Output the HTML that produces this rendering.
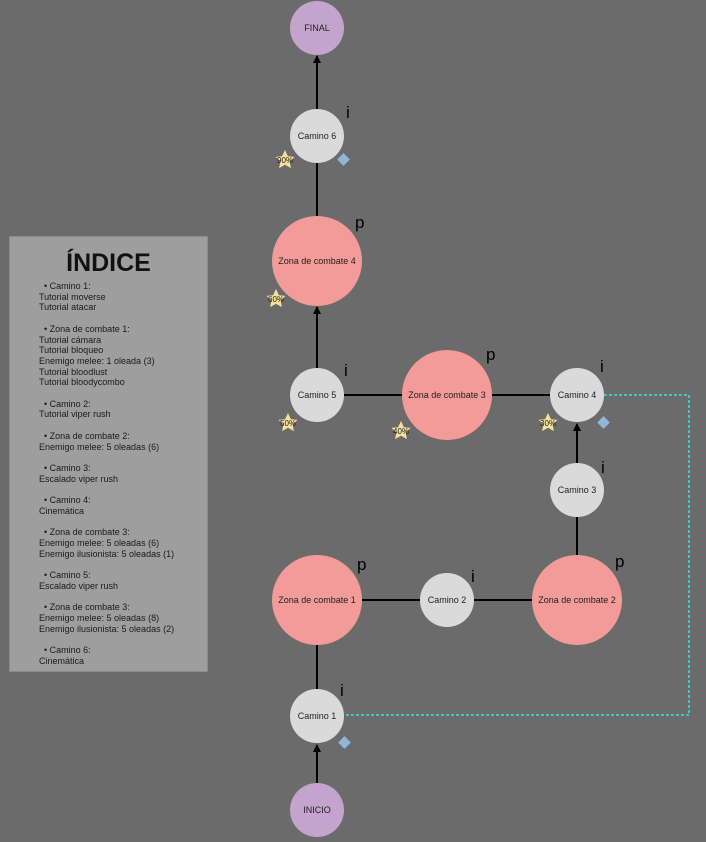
<!DOCTYPE html>
<html><head><style>
body{margin:0;background:#6b6b6b;width:706px;height:842px;overflow:hidden;font-family:"Liberation Sans",sans-serif}
#idx{position:absolute;left:9px;top:236px;width:197px;height:434px;background:#9e9e9e;border:1px solid #8a8a8a;color:#1a1a1a;font-size:9px;line-height:10.7px}
#idx h1{margin:0;position:absolute;top:11px;width:100%;text-align:center;font-size:25px;line-height:30px;font-weight:bold;color:#111}
#idx .t{position:absolute;left:29px;top:44px;white-space:pre}
</style></head><body>
<div id="idx"><h1>ÍNDICE</h1><div class="t">  • Camino 1:
Tutorial moverse
Tutorial atacar

  • Zona de combate 1:
Tutorial cámara
Tutorial bloqueo
Enemigo melee: 1 oleada (3)
Tutorial bloodlust
Tutorial bloodycombo

  • Camino 2:
Tutorial viper rush

  • Zona de combate 2:
Enemigo melee: 5 oleadas (6)

  • Camino 3:
Escalado viper rush

  • Camino 4:
Cinemática

  • Zona de combate 3:
Enemigo melee: 5 oleadas (6)
Enemigo ilusionista: 5 oleadas (1)

  • Camino 5:
Escalado viper rush

  • Zona de combate 3:
Enemigo melee: 5 oleadas (8)
Enemigo ilusionista: 5 oleadas (2)

  • Camino 6:
Cinemática</div></div>
<svg width="706" height="842" style="position:absolute;left:0;top:0" font-family="Liberation Sans,sans-serif">
<defs><marker id="a" markerWidth="8" markerHeight="8" refX="7" refY="4" orient="auto" markerUnits="userSpaceOnUse"><path d="M0,0L8,4L0,8z" fill="#000"/></marker></defs>
<g stroke="#000" stroke-width="2" fill="none">
<line x1="317" y1="783" x2="317" y2="745" marker-end="url(#a)"/>
<line x1="317" y1="689" x2="317" y2="645"/>
<line x1="362" y1="600" x2="420" y2="600"/>
<line x1="474" y1="600" x2="532" y2="600"/>
<line x1="577" y1="555" x2="577" y2="517"/>
<line x1="577" y1="463" x2="577" y2="424" marker-end="url(#a)"/>
<line x1="344" y1="395" x2="402" y2="395"/>
<line x1="492" y1="395" x2="550" y2="395"/>
<line x1="317" y1="368" x2="317" y2="307" marker-end="url(#a)"/>
<line x1="317" y1="216" x2="317" y2="163"/>
<line x1="317" y1="109" x2="317" y2="56" marker-end="url(#a)"/>
</g>
<path d="M604,395H689V715H344" stroke="#2ee6e6" stroke-width="1.5" stroke-dasharray="3,2" fill="none"/>
<g font-size="9" text-anchor="middle" fill="#222">
<circle cx="317" cy="28" r="27" fill="#c4a3cc"/><text x="317" y="31">FINAL</text>
<circle cx="317" cy="810" r="27" fill="#c4a3cc"/><text x="317" y="813">INICIO</text>
<circle cx="317" cy="136" r="27" fill="#dadada"/><text x="317" y="139">Camino 6</text>
<circle cx="317" cy="261" r="45" fill="#f29b98"/><text x="317" y="264">Zona de combate 4</text>
<circle cx="317" cy="395" r="27" fill="#dadada"/><text x="317" y="398">Camino 5</text>
<circle cx="447" cy="395" r="45" fill="#f29b98"/><text x="447" y="398">Zona de combate 3</text>
<circle cx="577" cy="395" r="27" fill="#dadada"/><text x="577" y="398">Camino 4</text>
<circle cx="577" cy="490" r="27" fill="#dadada"/><text x="577" y="493">Camino 3</text>
<circle cx="577" cy="600" r="45" fill="#f29b98"/><text x="577" y="603">Zona de combate 2</text>
<circle cx="447" cy="600" r="27" fill="#dadada"/><text x="447" y="603">Camino 2</text>
<circle cx="317" cy="600" r="45" fill="#f29b98"/><text x="317" y="603">Zona de combate 1</text>
<circle cx="317" cy="716" r="27" fill="#dadada"/><text x="317" y="719">Camino 1</text>
</g>
<g font-size="17" fill="#000">
<text x="346" y="118">i</text><text x="355" y="228">p</text>
<text x="344" y="376">i</text><text x="486" y="360">p</text><text x="600" y="372">i</text>
<text x="601" y="473">i</text><text x="615" y="567">p</text>
<text x="471" y="582">i</text><text x="357" y="570">p</text><text x="340" y="696">i</text>
</g>
<g fill="#8fb8d8">
<rect x="339" y="155" width="9" height="9" transform="rotate(45 343.5 159.5)"/>
<rect x="599" y="418" width="9" height="9" transform="rotate(45 603.5 422.5)"/>
<rect x="340" y="738" width="9" height="9" transform="rotate(45 344.5 742.5)"/>
</g>
<g fill="#f5e19a" font-size="8" text-anchor="middle">
<g transform="translate(285,160)"><path d="M0,-10L2.9,-3.8L9.5,-3.1L4.6,1.5L5.9,8.1L0,4.8L-5.9,8.1L-4.6,1.5L-9.5,-3.1L-2.9,-3.8z"/><text y="3" fill="#222">90%</text></g>
<g transform="translate(276,299)"><path d="M0,-10L2.9,-3.8L9.5,-3.1L4.6,1.5L5.9,8.1L0,4.8L-5.9,8.1L-4.6,1.5L-9.5,-3.1L-2.9,-3.8z"/><text y="3" fill="#222">60%</text></g>
<g transform="translate(288,423)"><path d="M0,-10L2.9,-3.8L9.5,-3.1L4.6,1.5L5.9,8.1L0,4.8L-5.9,8.1L-4.6,1.5L-9.5,-3.1L-2.9,-3.8z"/><text y="3" fill="#222">50%</text></g>
<g transform="translate(401,431)"><path d="M0,-10L2.9,-3.8L9.5,-3.1L4.6,1.5L5.9,8.1L0,4.8L-5.9,8.1L-4.6,1.5L-9.5,-3.1L-2.9,-3.8z"/><text y="3" fill="#222">40%</text></g>
<g transform="translate(548,423)"><path d="M0,-10L2.9,-3.8L9.5,-3.1L4.6,1.5L5.9,8.1L0,4.8L-5.9,8.1L-4.6,1.5L-9.5,-3.1L-2.9,-3.8z"/><text y="3" fill="#222">30%</text></g>
</g>
</svg>
</body></html>
